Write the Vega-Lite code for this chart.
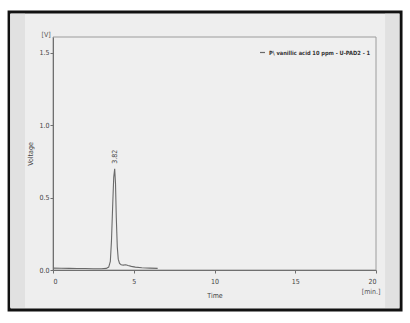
{
  "$schema": "https://vega.github.io/schema/vega-lite/v6.json",
  "width": 323,
  "height": 233,
  "autosize": {"type": "none"},
  "padding": {"left": 53, "top": 37, "right": 34, "bottom": 53},
  "background": "#ffffff",
  "config": {
    "view": {"stroke": null},
    "font": "DejaVu Sans Condensed, Liberation Sans, sans-serif",
    "axis": {
      "domainColor": "#6f6f6f",
      "tickColor": "#6f6f6f",
      "tickSize": 3,
      "labelFont": "DejaVu Sans Condensed, Liberation Sans, sans-serif",
      "labelFontSize": 7,
      "labelColor": "#444444",
      "titleFont": "DejaVu Sans Condensed, Liberation Sans, sans-serif",
      "titleFontSize": 7,
      "titleFontWeight": "normal",
      "titleColor": "#444444",
      "grid": false
    }
  },
  "datasets": {
    "frame": [{"x1": -2.72, "x2": 21.55, "y1": -0.276, "y2": 1.783}],
    "bands": [
      {"x1": -2.66, "x2": -1.73, "y1": -0.26, "y2": 1.77},
      {"x1": 20.56, "x2": 21.45, "y1": -0.26, "y2": 1.77}
    ],
    "plot": [{"x1": 0, "x2": 20, "y1": 0, "y2": 1.61}],
    "trace": [
      {"t": 0.0, "v": 0.013, "series": "P\\ vanillic acid 10 ppm - U-PAD2 - 1"},
      {"t": 0.5, "v": 0.012, "series": "P\\ vanillic acid 10 ppm - U-PAD2 - 1"},
      {"t": 1.0, "v": 0.011, "series": "P\\ vanillic acid 10 ppm - U-PAD2 - 1"},
      {"t": 1.5, "v": 0.01, "series": "P\\ vanillic acid 10 ppm - U-PAD2 - 1"},
      {"t": 2.0, "v": 0.01, "series": "P\\ vanillic acid 10 ppm - U-PAD2 - 1"},
      {"t": 2.5, "v": 0.009, "series": "P\\ vanillic acid 10 ppm - U-PAD2 - 1"},
      {"t": 3.0, "v": 0.009, "series": "P\\ vanillic acid 10 ppm - U-PAD2 - 1"},
      {"t": 3.3, "v": 0.011, "series": "P\\ vanillic acid 10 ppm - U-PAD2 - 1"},
      {"t": 3.45, "v": 0.02, "series": "P\\ vanillic acid 10 ppm - U-PAD2 - 1"},
      {"t": 3.55, "v": 0.06, "series": "P\\ vanillic acid 10 ppm - U-PAD2 - 1"},
      {"t": 3.62, "v": 0.2, "series": "P\\ vanillic acid 10 ppm - U-PAD2 - 1"},
      {"t": 3.7, "v": 0.46, "series": "P\\ vanillic acid 10 ppm - U-PAD2 - 1"},
      {"t": 3.76, "v": 0.64, "series": "P\\ vanillic acid 10 ppm - U-PAD2 - 1"},
      {"t": 3.82, "v": 0.7, "series": "P\\ vanillic acid 10 ppm - U-PAD2 - 1"},
      {"t": 3.87, "v": 0.6, "series": "P\\ vanillic acid 10 ppm - U-PAD2 - 1"},
      {"t": 3.92, "v": 0.36, "series": "P\\ vanillic acid 10 ppm - U-PAD2 - 1"},
      {"t": 3.98, "v": 0.16, "series": "P\\ vanillic acid 10 ppm - U-PAD2 - 1"},
      {"t": 4.04, "v": 0.075, "series": "P\\ vanillic acid 10 ppm - U-PAD2 - 1"},
      {"t": 4.12, "v": 0.045, "series": "P\\ vanillic acid 10 ppm - U-PAD2 - 1"},
      {"t": 4.22, "v": 0.036, "series": "P\\ vanillic acid 10 ppm - U-PAD2 - 1"},
      {"t": 4.35, "v": 0.034, "series": "P\\ vanillic acid 10 ppm - U-PAD2 - 1"},
      {"t": 4.5, "v": 0.036, "series": "P\\ vanillic acid 10 ppm - U-PAD2 - 1"},
      {"t": 4.65, "v": 0.031, "series": "P\\ vanillic acid 10 ppm - U-PAD2 - 1"},
      {"t": 4.85, "v": 0.025, "series": "P\\ vanillic acid 10 ppm - U-PAD2 - 1"},
      {"t": 5.1, "v": 0.02, "series": "P\\ vanillic acid 10 ppm - U-PAD2 - 1"},
      {"t": 5.5, "v": 0.016, "series": "P\\ vanillic acid 10 ppm - U-PAD2 - 1"},
      {"t": 6.0, "v": 0.013, "series": "P\\ vanillic acid 10 ppm - U-PAD2 - 1"},
      {"t": 6.48, "v": 0.011, "series": "P\\ vanillic acid 10 ppm - U-PAD2 - 1"}
    ],
    "peak": [{"t": 3.82, "v": 0.7, "label": "3.82"}],
    "units": [
      {"t": -0.42, "v": 1.625, "label": "[V]"},
      {"t": 19.7, "v": -0.153, "label": "[min.]"}
    ]
  },
  "layer": [
    {
      "data": {"name": "frame"},
      "mark": {"type": "rect", "fill": "#eeeeee", "stroke": "#111111", "strokeWidth": 3},
      "encoding": {
        "x": {"field": "x1", "type": "quantitative", "title": "Time",
              "scale": {"domain": [0, 20], "nice": false, "zero": false},
              "axis": {"values": [0, 5, 10, 15, 20], "labelPadding": 4, "titlePadding": 7, "zindex": 2}},
        "x2": {"field": "x2"},
        "y": {"field": "y1", "type": "quantitative", "title": "Voltage",
              "scale": {"domain": [0, 1.61], "nice": false, "zero": false},
              "axis": {"values": [0, 0.5, 1.0, 1.5], "format": ".1f", "labelPadding": 1, "titlePadding": 5, "zindex": 2}},
        "y2": {"field": "y2"}
      }
    },
    {
      "data": {"name": "bands"},
      "mark": {"type": "rect", "fill": "#e1e1e1"},
      "encoding": {
        "x": {"field": "x1", "type": "quantitative", "title": "Time"},
        "x2": {"field": "x2"},
        "y": {"field": "y1", "type": "quantitative", "title": "Voltage"},
        "y2": {"field": "y2"}
      }
    },
    {
      "data": {"name": "plot"},
      "mark": {"type": "rect", "fill": "#efefef", "stroke": "#9c9c9c", "strokeWidth": 1},
      "encoding": {
        "x": {"field": "x1", "type": "quantitative", "title": "Time"},
        "x2": {"field": "x2"},
        "y": {"field": "y1", "type": "quantitative", "title": "Voltage"},
        "y2": {"field": "y2"}
      }
    },
    {
      "data": {"name": "trace"},
      "mark": {"type": "line", "strokeWidth": 1.1},
      "encoding": {
        "x": {"field": "t", "type": "quantitative", "title": "Time"},
        "y": {"field": "v", "type": "quantitative", "title": "Voltage"},
        "color": {"field": "series", "type": "nominal",
                  "scale": {"range": ["#6a6a6a"]},
                  "legend": {"title": null, "orient": "none", "legendX": 206, "legendY": 12, "symbolType": "stroke",
                             "symbolSize": 25, "symbolStrokeWidth": 1.2, "labelFontSize": 5.7, "labelFontWeight": "bold",
                             "labelColor": "#333333", "labelOffset": 3, "padding": 0}}
      }
    },
    {
      "data": {"name": "peak"},
      "mark": {"type": "text", "angle": 270, "align": "left", "baseline": "middle", "dx": 5, "fontSize": 7, "color": "#444444"},
      "encoding": {
        "x": {"field": "t", "type": "quantitative", "title": "Time"},
        "y": {"field": "v", "type": "quantitative", "title": "Voltage"},
        "text": {"field": "label"}
      }
    },
    {
      "data": {"name": "units"},
      "mark": {"type": "text", "align": "center", "baseline": "middle", "fontSize": 7, "color": "#555555"},
      "encoding": {
        "x": {"field": "t", "type": "quantitative", "title": "Time"},
        "y": {"field": "v", "type": "quantitative", "title": "Voltage"},
        "text": {"field": "label"}
      }
    }
  ]
}
